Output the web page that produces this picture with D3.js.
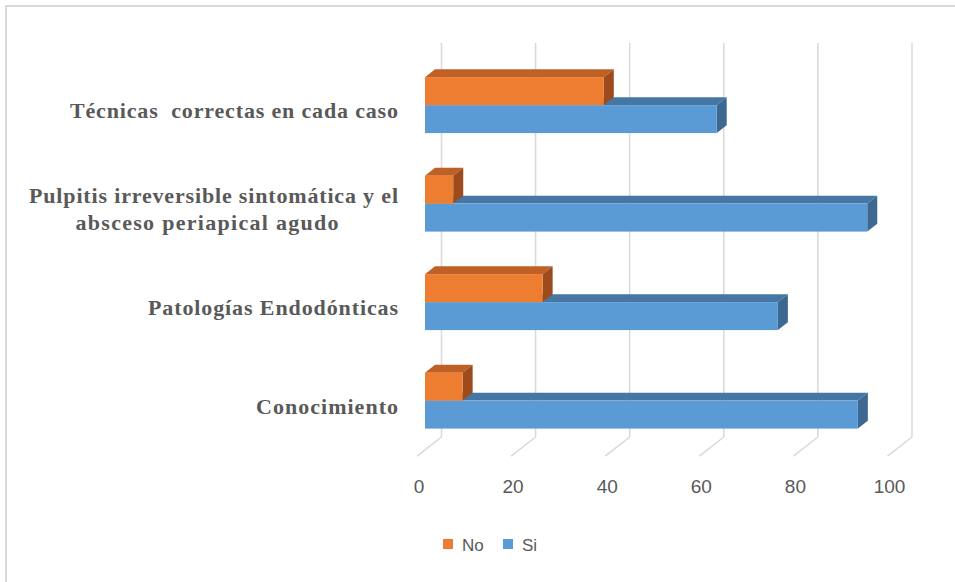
<!DOCTYPE html>
<html>
<head>
<meta charset="utf-8">
<script src="https://cdn.jsdelivr.net/npm/d3@7"></script>
<style>
  html, body { margin: 0; padding: 0; background: #fff; }
  svg { display: block; }
  .cat { font-family: "Liberation Serif", "DejaVu Serif", "Times New Roman", serif; font-weight: bold; white-space: pre; }
  .sans { font-family: "Liberation Sans", Arial, sans-serif; }
</style>
</head>
<body>
<svg id="chart" width="955" height="582"></svg>
<script>
// ---- data ----
const categories = [
  "Técnicas  correctas en cada caso",
  "Pulpitis irreversible sintomática y el absceso periapical agudo",
  "Patologías Endodónticas",
  "Conocimiento"
];
const categoryLines = [
  ["Técnicas  correctas en cada caso"],
  ["Pulpitis irreversible sintomática y el", "absceso periapical agudo"],
  ["Patologías Endodónticas"],
  ["Conocimiento"]
];
const seriesNames = ["No", "Si"];
const noValues = [38, 6, 25, 8];
const siValues = [62, 94, 75, 92];
const tickValues = [0, 20, 40, 60, 80, 100];

// ---- styles ----
const colors = {
  No: { front: "#ED7D31", top: "#BF6127", side: "#9D4B1D" },
  Si: { front: "#5B9BD5", top: "#4676A3", side: "#3D6891" }
};
const gridColor = "#d9d9d9";
const textColor = "#595959";

const svg = d3.select("#chart");

// chart border
svg.append("rect").attr("x", 6).attr("y", 6).attr("width", 1000).attr("height", 1000)
  .attr("fill", "#fff").attr("stroke", gridColor).attr("stroke-width", 2);

// ---- scales (back wall coordinates) ----
const x = d3.scaleLinear().domain([0, 100]).range([441.5, 912]);
const y = d3.scaleBand().domain(categories).range([43, 437]).paddingInner(0).paddingOuter(0);
const ySub = d3.scaleBand().domain(seriesNames).range([0, y.bandwidth()]).paddingInner(0).paddingOuter(0.76);

// oblique depth projection
const K = 0.78;
const Z_FRONT = 24.5;
const BAR_BACK = 6.5, BAR_FRONT = 16.5;
const P = (xv, yv, z) => [xv - z, yv + K * z];

// ---- back wall gridlines ----
const g = svg.append("g");
g.selectAll(".grid").data(tickValues).join("line")
  .attr("x1", d => x(d)).attr("x2", d => x(d))
  .attr("y1", y.range()[0]).attr("y2", y.range()[1])
  .attr("stroke", gridColor).attr("stroke-width", 1.5);
g.selectAll(".floor").data(tickValues).join("line")
  .attr("x1", d => x(d)).attr("y1", y.range()[1])
  .attr("x2", d => P(x(d), y.range()[1], Z_FRONT)[0])
  .attr("y2", d => P(x(d), y.range()[1], Z_FRONT)[1])
  .attr("stroke", gridColor).attr("stroke-width", 1.5);

// ---- tick labels ----
svg.selectAll(".tick").data(tickValues).join("text")
  .attr("class", "sans")
  .attr("x", d => P(x(d), 0, Z_FRONT)[0] + 2)
  .attr("y", P(0, y.range()[1], Z_FRONT)[1] + 37)
  .attr("text-anchor", "middle")
  .attr("font-size", 19)
  .attr("fill", textColor)
  .text(d => d);

// ---- bars ----
const barData = [];
categories.forEach((c, i) => {
  barData.push({ cat: c, s: "Si", v: siValues[i] });
  barData.push({ cat: c, s: "No", v: noValues[i] });
});
const pts = a => a.map(p => p.join(",")).join(" ");
const bars = svg.append("g").selectAll("g").data(barData).join("g");
bars.each(function(d) {
  const gg = d3.select(this);
  const y0 = y(d.cat) + ySub(d.s), y1 = y0 + ySub.bandwidth();
  const x0 = x(0), x1 = x(d.v);
  const col = colors[d.s];
  gg.append("polygon").attr("points", pts([
    P(x0, y0, BAR_FRONT), P(x1, y0, BAR_FRONT), P(x1, y0, BAR_BACK), P(x0, y0, BAR_BACK)
  ])).attr("fill", col.top);
  gg.append("polygon").attr("points", pts([
    P(x1, y0, BAR_FRONT), P(x1, y0, BAR_BACK), P(x1, y1, BAR_BACK), P(x1, y1, BAR_FRONT)
  ])).attr("fill", col.side);
  const f0 = P(x0, y0, BAR_FRONT), f1 = P(x1, y1, BAR_FRONT);
  gg.append("rect").attr("x", f0[0]).attr("y", f0[1])
    .attr("width", f1[0] - f0[0]).attr("height", f1[1] - f0[1])
    .attr("fill", col.front);
});

// ---- category labels ----
const labelWidths = [[328], [369, 263], [250], [142]];
const lab = svg.append("g");
categories.forEach((c, i) => {
  const lines = categoryLines[i];
  const cy = P(0, y(c) + y.bandwidth() / 2, Z_FRONT)[1];
  const lh = 27;
  lines.forEach((ln, j) => {
    const base = cy + (j - (lines.length - 1) / 2) * lh + 7;
    const t = lab.append("text")
      .attr("class", "cat")
      .attr("y", base)
      .attr("font-size", 22)
      .attr("fill", textColor)
      .attr("textLength", labelWidths[i][j])
      .attr("lengthAdjust", "spacing")
      .text(ln);
    if (lines.length > 1 && j > 0) {
      t.attr("x", 207).attr("text-anchor", "middle");
    } else {
      t.attr("x", 398).attr("text-anchor", "end");
    }
  });
});

// ---- legend ----
const legend = svg.append("g");
const legendItems = [{ s: "No", x: 443 }, { s: "Si", x: 503 }];
legendItems.forEach(it => {
  legend.append("rect").attr("x", it.x).attr("y", 539).attr("width", 10).attr("height", 10)
    .attr("fill", colors[it.s].front);
  legend.append("text").attr("class", "sans").attr("x", it.x + 19).attr("y", 551)
    .attr("font-size", 17).attr("fill", textColor).text(it.s);
});
</script>
</body>
</html>
